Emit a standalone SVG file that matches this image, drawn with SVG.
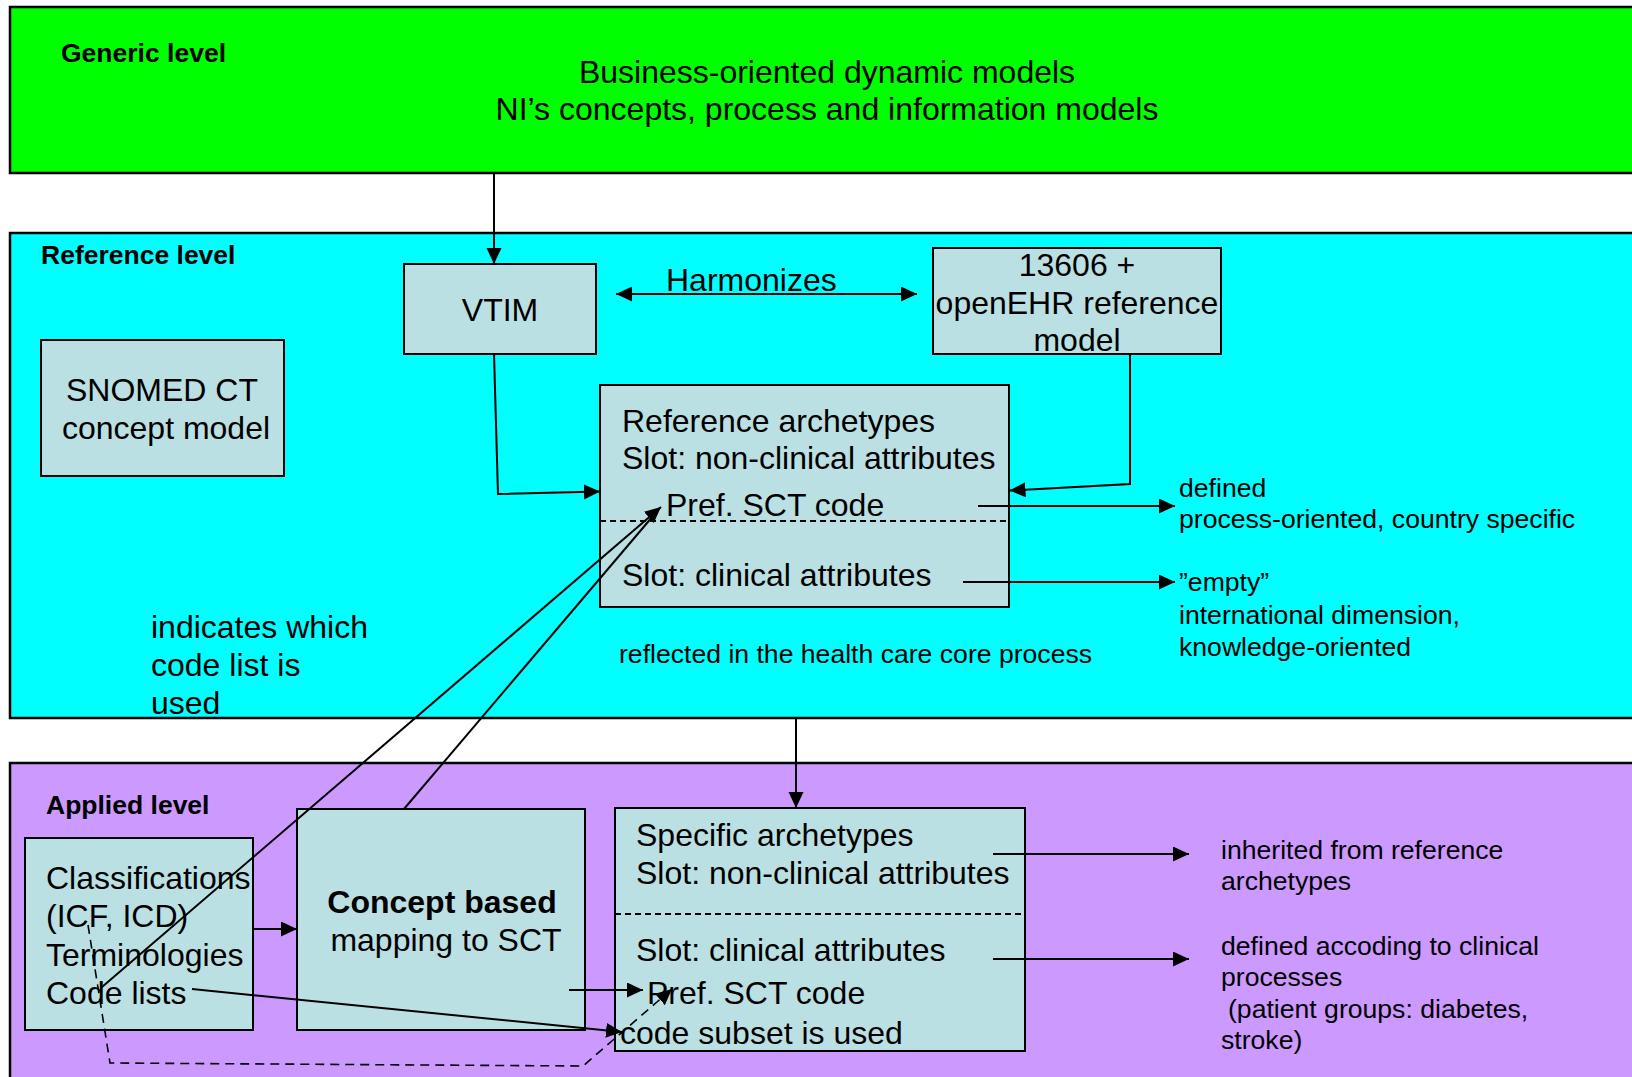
<svg xmlns="http://www.w3.org/2000/svg" width="1632" height="1077" viewBox="0 0 1632 1077">
<style>
text{font-family:"Liberation Sans",Arial,sans-serif;fill:#000}
.lvl{font-size:26.5px;font-weight:bold}
.big{font-size:32px}
.sm{font-size:26.6px}
.mid{text-anchor:middle}
.band{stroke:#000;stroke-width:2.5}
.box{fill:#bbe0e3;stroke:#000;stroke-width:2}
.sep{stroke:#000;stroke-width:1.8;stroke-dasharray:6,4;fill:none}
.con{stroke:#000;stroke-width:2;fill:none}
.dash{stroke:#000;stroke-width:1.6;stroke-dasharray:9,6;fill:none}
</style>
<defs>
<marker id="ah" markerUnits="userSpaceOnUse" markerWidth="17" markerHeight="16" refX="16" refY="7.5" orient="auto">
<path d="M0,0 L16,7.5 L0,15 z" fill="#000"/>
</marker>
<marker id="ahs" markerUnits="userSpaceOnUse" markerWidth="17" markerHeight="16" refX="0" refY="7.5" orient="auto">
<path d="M16,0 L0,7.5 L16,15 z" fill="#000"/>
</marker>
</defs>

<g id="generic-level">
<rect class="band" x="10" y="7" width="1640" height="166" fill="#00ff00"/>
<text class="lvl" x="61" y="62">Generic level</text>
<text class="big mid" x="827" y="83">Business-oriented dynamic models</text>
<text class="big mid" x="827" y="120">NI’s concepts, process and information models</text>
</g>

<g id="reference-level">
<rect class="band" x="10" y="233" width="1640" height="485" fill="#00ffff"/>
<text class="lvl" x="41" y="264">Reference level</text>
</g>

<g id="applied-level">
<rect class="band" x="10" y="763" width="1640" height="330" fill="#cc99ff"/>
<text class="lvl" x="46" y="814">Applied level</text>
</g>

<g id="vtim">
<rect class="box" x="404" y="264" width="192" height="90"/>
<text class="big mid" x="500" y="321">VTIM</text>
</g>

<g id="openehr">
<rect class="box" x="933" y="248" width="288" height="106"/>
<text class="big mid" x="1077" y="276">13606 +</text>
<text class="big mid" x="1077" y="314">openEHR reference</text>
<text class="big mid" x="1077" y="351">model</text>
</g>

<g id="snomed">
<rect class="box" x="41" y="340" width="243" height="136"/>
<text class="big mid" x="162" y="401">SNOMED CT</text>
<text class="big mid" x="166" y="439">concept model</text>
</g>

<g id="reference-archetypes">
<rect class="box" x="600" y="385" width="409" height="222"/>
<line class="sep" x1="600" y1="521" x2="1009" y2="521"/>
<text class="big" x="622" y="432">Reference archetypes</text>
<text class="big" x="622" y="469">Slot: non-clinical attributes</text>
<text class="big" x="666" y="516">Pref. SCT code</text>
<text class="big" x="622" y="586">Slot: clinical attributes</text>
</g>

<g id="reference-notes">
<text class="sm" x="1179" y="497">defined</text>
<text class="sm" x="1179" y="528">process-oriented, country specific</text>
<text class="sm" x="1179" y="591">”empty”</text>
<text class="sm" x="1179" y="624">international dimension,</text>
<text class="sm" x="1179" y="656">knowledge-oriented</text>
<text class="sm" x="619" y="663">reflected in the health care core process</text>
<text class="big" x="151" y="638">indicates which</text>
<text class="big" x="151" y="676">code list is</text>
<text class="big" x="151" y="714">used</text>
</g>

<g id="classifications">
<rect class="box" x="25" y="838" width="228" height="192"/>
<text class="big" x="46" y="889">Classifications</text>
<text class="big" x="46" y="927">(ICF, ICD)</text>
<text class="big" x="46" y="966">Terminologies</text>
<text class="big" x="46" y="1004">Code lists</text>
</g>

<g id="concept-mapping">
<rect class="box" x="297" y="809" width="288" height="221"/>
<text class="big mid" x="442" y="913" font-weight="bold">Concept based</text>
<text class="big mid" x="446" y="951">mapping to SCT</text>
</g>

<g id="specific-archetypes">
<rect class="box" x="615" y="808" width="410" height="243"/>
<line class="sep" x1="615" y1="914" x2="1025" y2="914"/>
<text class="big" x="636" y="846">Specific archetypes</text>
<text class="big" x="636" y="884">Slot: non-clinical attributes</text>
<text class="big" x="636" y="961">Slot: clinical attributes</text>
<text class="big" x="647" y="1004">Pref. SCT code</text>
<text class="big" x="620" y="1044">code subset is used</text>
</g>

<g id="applied-notes">
<text class="sm" x="1221" y="859">inherited from reference</text>
<text class="sm" x="1221" y="890">archetypes</text>
<text class="sm" x="1221" y="955">defined accoding to clinical</text>
<text class="sm" x="1221" y="986">processes</text>
<text class="sm" x="1228" y="1018">(patient groups: diabetes,</text>
<text class="sm" x="1221" y="1049">stroke)</text>
</g>

<g id="connectors">
<line class="con" x1="494" y1="173" x2="494" y2="264" marker-end="url(#ah)"/>
<line class="con" x1="616" y1="294" x2="917" y2="294" marker-start="url(#ahs)" marker-end="url(#ah)"/>
<text class="big" x="666" y="291">Harmonizes</text>
<polyline class="con" points="494,354 498,494 600,491.5" marker-end="url(#ah)"/>
<polyline class="con" points="1130,354 1130,484 1009.5,490.5" marker-end="url(#ah)"/>
<line class="con" x1="978" y1="506" x2="1175" y2="506" marker-end="url(#ah)"/>
<line class="con" x1="963" y1="582" x2="1175" y2="582" marker-end="url(#ah)"/>
<line class="con" x1="796" y1="718" x2="796" y2="808" marker-end="url(#ah)"/>
<line class="con" x1="102" y1="987" x2="661" y2="507" marker-end="url(#ah)"/>
<line class="con" x1="404" y1="809" x2="653" y2="516"/>
<line class="con" x1="253" y1="929" x2="297" y2="929" marker-end="url(#ah)"/>
<line class="con" x1="569" y1="990" x2="643" y2="990" marker-end="url(#ah)"/>
<line class="con" x1="192" y1="989" x2="622" y2="1032" marker-end="url(#ah)"/>
<polyline class="dash" points="88,925 110,1063 583,1066 672,989" marker-end="url(#ah)"/>
<line class="con" x1="993" y1="854" x2="1189" y2="854" marker-end="url(#ah)"/>
<line class="con" x1="993" y1="959" x2="1189" y2="959" marker-end="url(#ah)"/>
</g>
</svg>
